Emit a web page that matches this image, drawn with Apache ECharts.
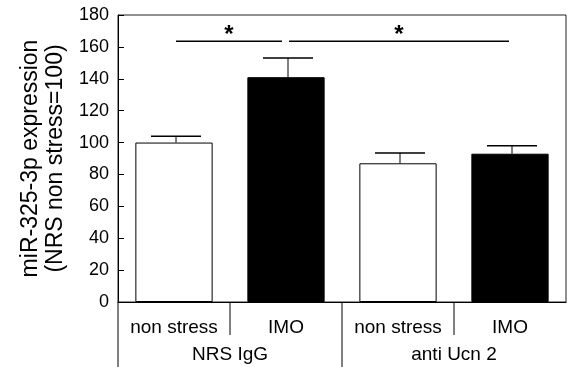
<!DOCTYPE html>
<html><head><meta charset="utf-8">
<script src="https://cdn.jsdelivr.net/npm/echarts@6/dist/echarts.min.js"></script>
<style>html,body{margin:0;padding:0;background:#fff}#c{width:567px;height:367px}</style>
</head><body><div id="c"></div>
<script>
// ---- data ----
const categories = ['non stress', 'IMO', 'non stress', 'IMO'];
const groups = ['NRS IgG', 'anti Ucn 2'];
const means = [100, 141, 87, 93];
const errHigh = [104, 153, 93.5, 98];
const yMin = 0, yMax = 180, yInterval = 20;
const sigPairs = [[0, 1], [1, 3]];
const sigLevel = 163.5;
const sigLabel = '*';
const yTitle = 'miR-325-3p expression\n(NRS non stress=100)';

// ---- styles ----
const FONT = 'Liberation Sans, Arial, sans-serif';
const barFill = ['#ffffff', '#000000', '#ffffff', '#000000'];

const chart = echarts.init(document.getElementById('c'), null, {renderer: 'canvas'});
const option = {
  animation: false,
  backgroundColor: '#fff',
  grid: {left: 118, right: 1, top: 15, bottom: 65, show: true, borderColor: '#222', borderWidth: 1, backgroundColor: 'transparent'},
  xAxis: {
    type: 'category', data: categories,
    axisLine: {lineStyle: {color: '#000', width: 1}},
    axisTick: {show: false},
    axisLabel: {color: '#000', fontFamily: FONT, fontSize: 19, margin: 16, interval: 0},
    splitLine: {show: false}
  },
  yAxis: {
    type: 'value', min: yMin, max: yMax, interval: yInterval,
    name: yTitle, nameLocation: 'middle', nameRotate: 90, nameGap: 49,
    nameTextStyle: {color: '#000', fontFamily: FONT, fontSize: 23, lineHeight: 25, align: 'center'},
    axisLine: {show: true, lineStyle: {color: '#000', width: 1}},
    axisTick: {show: true, inside: true, length: 6, lineStyle: {color: '#000', width: 1}},
    axisLabel: {color: '#000', fontFamily: FONT, fontSize: 18, margin: 9},
    splitLine: {show: false}
  },
  series: [
    {
      type: 'bar', barCategoryGap: '31%',
      data: means.map((v, i) => ({value: v, itemStyle: {color: barFill[i], borderColor: '#000', borderWidth: 1}})),
      z: 2
    },
    {
      type: 'custom', z: 3, clip: false,
      encode: {x: 0, y: [1, 2]},
      data: means.map((m, i) => [i, m, errHigh[i]]),
      renderItem(params, api) {
        const i = api.value(0);
        const lo = api.coord([i, api.value(1)]);
        const hi = api.coord([i, api.value(2)]);
        const cap = 25;
        const x = lo[0] + 2;
        return {type: 'group', children: [
          {type: 'line', shape: {x1: x, y1: lo[1], x2: x, y2: hi[1]}, style: {stroke: '#000', lineWidth: 1}},
          {type: 'line', shape: {x1: x - cap, y1: hi[1], x2: x + cap, y2: hi[1]}, style: {stroke: '#000', lineWidth: 1.5}}
        ]};
      }
    },
    {
      type: 'custom', z: 4, clip: false, silent: true,
      data: [[0, 0]],
      encode: {x: 0, y: 1},
      renderItem(params, api) {
        const band = api.size([1, 0])[0];
        const zero = api.coord([0, 0])[1];
        const H = api.getHeight();
        const cx = i => api.coord([i, 0])[0];
        const kids = [];
        const x0 = cx(0) - band / 2;
        kids.push({type: 'line', shape: {x1: x0, y1: zero, x2: x0, y2: H}, style: {stroke: '#000', lineWidth: 1}});
        for (let g = 0; g < groups.length; g++) {
          const xs = cx(2 * g) + band / 2;
          kids.push({type: 'line', shape: {x1: xs, y1: zero, x2: xs, y2: zero + 33}, style: {stroke: '#000', lineWidth: 1}});
          kids.push({type: 'text', x: (cx(2 * g) + cx(2 * g + 1)) / 2, y: zero + 53,
            style: {text: groups[g], fill: '#000', font: '19px ' + FONT, textAlign: 'center', textVerticalAlign: 'middle'}});
          if (g < groups.length - 1) {
            const xg = cx(2 * g + 1) + band / 2;
            kids.push({type: 'line', shape: {x1: xg, y1: zero, x2: xg, y2: H}, style: {stroke: '#000', lineWidth: 1}});
          }
        }
        const ys = api.coord([0, sigLevel])[1];
        sigPairs.forEach(([a, b], k) => {
          const xa = cx(a) + 2 + (k === 0 ? 0 : 1);
          const xb = cx(b) + 2 - (k === 0 ? 6 : 3);
          kids.push({type: 'line', shape: {x1: xa, y1: ys, x2: xb, y2: ys}, style: {stroke: '#000', lineWidth: 1.5}});
          kids.push({type: 'text', x: (xa + xb) / 2, y: ys + 6,
            style: {text: sigLabel, fill: '#000', font: 'bold 24px ' + FONT, textAlign: 'center', textVerticalAlign: 'bottom'}});
        });
        return {type: 'group', children: kids};
      }
    }
  ]
};
chart.setOption(option);
</script></body></html>
